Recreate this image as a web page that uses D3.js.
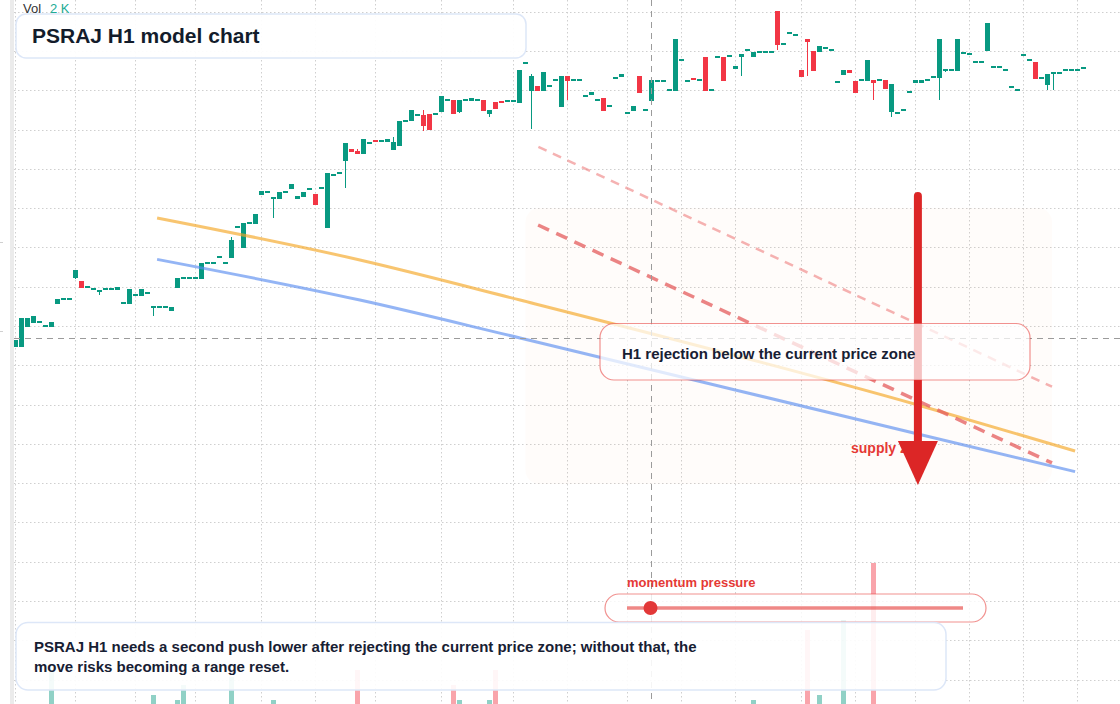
<!DOCTYPE html>
<html>
<head>
<meta charset="utf-8">
<script src="https://cdn.jsdelivr.net/npm/d3@7"></script>
<style>
  body { margin: 0; background: #fff; }
  svg { display: block; }
  text { font-family: "Liberation Sans", Arial, sans-serif; }
</style>
</head>
<body>
<svg id="chart" width="1120" height="704"></svg>
<script>
// H1 candles (index = bar number)
const opens = [
  99.03, 98.93, 98.93, 99.95, 100.15, 100.20, 100.00, 99.95, 101.12, 101.37,
  101.37, 102.44, 102.29, 101.98, 101.88, 101.78, 101.88, 101.88, 101.83, 101.17,
  101.12, 101.58, 101.53, 101.68, 100.97, 100.97, 100.97, 100.76, 101.93, 102.44,
  102.44, 102.44, 102.39, 103.21, 103.21, 103.51, 103.21, 103.46, 105.04, 103.97,
  105.24, 105.19, 106.67, 106.82, 106.51, 106.46, 106.82, 106.97, 106.46, 106.56,
  106.97, 106.72, 107.02, 104.99, 107.68, 107.79, 108.40, 109.01, 108.91, 108.75,
  109.31, 109.44, 109.41, 109.36, 108.96, 109.16, 110.38, 110.43, 110.74, 110.74,
  110.79, 110.79, 110.89, 111.50, 111.50, 110.89, 111.50, 111.45, 111.50, 111.50,
  110.79, 111.40, 111.43, 111.45, 111.45, 111.35, 113.38, 111.96, 112.21, 111.96,
  112.21, 112.52, 111.15, 112.72, 112.52, 112.52, 111.70, 111.76, 111.50, 111.60,
  111.20, 112.62, 112.67, 110.84, 110.94, 112.72, 110.99, 111.45, 112.47, 112.47,
  112.01, 111.96, 113.54, 112.47, 112.60, 112.52, 113.69, 112.01, 113.69, 113.69,
  113.74, 113.08, 113.69, 114.05, 113.69, 113.94, 113.94, 113.94, 116.03, 114.35,
  114.91, 114.81, 113.03, 114.61, 114.00, 113.94, 114.15, 114.05, 112.42, 112.77,
  113.03, 112.47, 112.52, 112.47, 112.52, 112.52, 112.52, 110.89, 110.84, 110.99,
  111.91, 112.37, 112.37, 112.52, 112.67, 112.62, 113.03, 113.03, 112.98, 113.89,
  113.84, 113.44, 113.44, 114.00, 113.18, 113.18, 113.03, 112.16, 112.01, 113.79,
  113.54, 113.44, 112.62, 112.26, 112.88, 112.88, 113.03, 113.03, 113.03, 113.13
];
const highs = [
  99.49, 99.29, 100.41, 100.41, 100.51, 100.20, 100.00, 100.20, 101.37, 101.37,
  101.37, 102.85, 102.29, 101.98, 101.88, 101.78, 101.88, 101.88, 101.98, 101.17,
  101.88, 101.58, 101.88, 101.68, 100.97, 100.97, 100.97, 100.97, 102.44, 102.44,
  102.44, 102.44, 103.21, 103.21, 103.21, 103.51, 103.21, 104.53, 105.04, 105.24,
  105.24, 105.70, 106.87, 106.82, 106.51, 106.82, 106.82, 107.23, 106.62, 106.82,
  106.97, 106.72, 107.02, 107.79, 107.68, 107.79, 109.31, 109.01, 109.01, 109.52,
  109.31, 109.44, 109.41, 109.52, 109.62, 110.43, 110.48, 110.99, 110.74, 110.99,
  110.79, 110.79, 111.70, 111.50, 111.50, 111.50, 111.50, 111.60, 111.50, 111.50,
  110.99, 111.40, 111.43, 111.45, 111.45, 113.03, 113.38, 112.82, 112.21, 112.93,
  112.21, 112.52, 112.72, 112.72, 112.52, 112.52, 111.70, 111.91, 111.50, 111.60,
  111.20, 112.62, 112.82, 110.84, 111.20, 112.72, 110.99, 112.52, 112.47, 112.47,
  112.01, 114.61, 113.54, 112.47, 112.60, 112.52, 113.69, 112.01, 113.69, 113.69,
  113.74, 113.23, 113.84, 114.05, 113.94, 113.94, 113.94, 113.94, 116.03, 114.35,
  114.91, 114.81, 113.03, 114.61, 114.00, 114.25, 114.15, 114.05, 112.42, 113.03,
  113.03, 112.47, 112.52, 113.54, 112.52, 112.52, 112.52, 112.32, 110.84, 110.99,
  111.91, 112.52, 112.52, 112.52, 112.67, 114.61, 113.03, 113.03, 114.61, 113.89,
  113.84, 113.44, 113.44, 115.42, 113.18, 113.18, 113.03, 112.16, 112.01, 113.79,
  113.54, 113.44, 112.62, 112.82, 112.88, 112.88, 113.03, 113.03, 113.03, 113.13
];
const lows = [
  99.03, 98.93, 98.93, 99.95, 100.15, 100.20, 100.00, 99.95, 101.12, 101.37,
  101.37, 102.39, 101.93, 101.98, 101.88, 101.58, 101.88, 101.88, 101.83, 101.17,
  101.12, 101.58, 101.53, 101.68, 100.51, 100.97, 100.97, 100.76, 101.93, 102.44,
  102.44, 102.44, 102.39, 103.21, 103.21, 103.51, 103.21, 103.46, 105.04, 103.97,
  105.24, 105.19, 106.67, 106.82, 105.50, 106.46, 106.82, 106.97, 106.46, 106.56,
  106.97, 106.16, 107.02, 104.99, 107.68, 107.79, 107.02, 108.86, 108.75, 108.75,
  109.31, 109.38, 109.41, 109.36, 108.96, 109.16, 110.38, 110.43, 110.74, 109.92,
  109.97, 110.79, 110.89, 111.50, 110.79, 110.84, 111.50, 111.45, 111.50, 110.94,
  110.64, 111.04, 111.37, 111.45, 111.45, 111.35, 113.38, 110.03, 111.96, 111.96,
  112.21, 112.52, 111.15, 111.50, 112.52, 112.52, 111.70, 111.76, 111.50, 110.94,
  111.20, 112.62, 112.67, 110.84, 110.94, 111.86, 110.99, 111.45, 112.47, 112.47,
  112.01, 111.96, 113.54, 112.47, 112.54, 112.52, 111.96, 112.01, 113.69, 112.47,
  113.74, 113.08, 112.72, 114.05, 113.69, 113.94, 113.94, 113.94, 114.05, 114.35,
  114.91, 114.81, 112.67, 112.72, 112.98, 113.94, 114.15, 114.05, 112.42, 112.77,
  112.88, 111.86, 112.52, 112.47, 111.50, 112.52, 112.06, 110.64, 110.84, 110.99,
  111.91, 112.37, 112.37, 112.52, 112.67, 111.50, 112.93, 113.03, 112.98, 113.89,
  113.84, 113.44, 113.44, 114.00, 113.18, 113.18, 113.03, 112.16, 112.01, 113.79,
  113.54, 112.57, 112.62, 112.01, 112.01, 112.88, 113.03, 113.03, 113.03, 113.13
];
const closes = [
  99.49, 99.29, 100.41, 100.41, 100.51, 100.20, 100.00, 100.20, 101.37, 101.37,
  101.37, 102.85, 101.93, 101.98, 101.88, 101.78, 101.88, 101.88, 101.98, 101.17,
  101.88, 101.58, 101.88, 101.68, 100.97, 100.97, 100.97, 100.97, 102.44, 102.44,
  102.44, 102.44, 103.21, 103.21, 103.21, 103.51, 103.21, 104.38, 105.04, 105.24,
  105.24, 105.70, 106.87, 106.82, 106.51, 106.82, 106.82, 107.23, 106.62, 106.82,
  106.97, 106.16, 107.02, 107.79, 107.68, 107.79, 109.31, 108.86, 108.75, 109.52,
  109.31, 109.38, 109.41, 109.52, 109.36, 110.43, 110.48, 110.99, 110.74, 110.18,
  109.97, 110.79, 111.70, 111.50, 110.79, 111.50, 111.50, 111.60, 111.50, 110.94,
  110.99, 111.04, 111.37, 111.45, 111.45, 113.03, 113.38, 112.72, 111.96, 112.93,
  112.21, 112.52, 112.72, 112.47, 112.52, 112.52, 111.70, 111.91, 111.50, 110.94,
  111.20, 112.62, 112.82, 110.84, 111.20, 111.86, 110.99, 112.52, 112.47, 112.47,
  112.01, 114.61, 113.54, 112.47, 112.54, 112.52, 111.96, 112.01, 113.69, 112.47,
  113.74, 113.23, 113.84, 114.05, 113.94, 113.94, 113.94, 113.94, 114.30, 114.35,
  114.91, 114.81, 112.67, 114.45, 112.98, 114.25, 114.15, 114.05, 112.42, 113.03,
  112.88, 111.86, 112.52, 113.54, 112.37, 112.52, 112.06, 112.32, 110.84, 110.99,
  111.91, 112.52, 112.52, 112.52, 112.67, 114.61, 113.03, 113.03, 114.61, 113.89,
  113.84, 113.44, 113.44, 115.42, 113.18, 113.18, 113.03, 112.16, 112.01, 113.79,
  113.54, 112.57, 112.62, 112.82, 112.88, 112.88, 113.03, 113.03, 113.03, 113.13
];
// volume in thousands
const volumes = [
  2, 2, 2, 2, 2, 2, 2, 96, 2, 2,
  2, 2, 2, 2, 2, 2, 2, 2, 2, 2,
  2, 2, 2, 2, 27, 2, 2, 2, 12, 57,
  2, 2, 2, 2, 2, 2, 2, 81, 2, 2,
  2, 2, 2, 2, 12, 2, 2, 2, 2, 2,
  2, 2, 2, 2, 2, 2, 2, 2, 102, 2,
  2, 2, 2, 2, 2, 2, 2, 2, 2, 2,
  2, 2, 2, 2, 57, 12, 2, 2, 2, 2,
  12, 102, 2, 2, 2, 2, 2, 2, 2, 2,
  2, 2, 2, 2, 2, 2, 2, 2, 2, 2,
  2, 2, 2, 2, 2, 2, 2, 2, 2, 2,
  2, 2, 2, 2, 2, 2, 2, 2, 2, 2,
  2, 2, 2, 2, 12, 2, 2, 2, 2, 2,
  2, 2, 2, 222, 2, 27, 2, 2, 2, 252,
  2, 2, 2, 2, 420, 2, 2, 2, 2, 2,
  2, 2, 2, 2, 2, 2, 2, 2, 2, 2,
  2, 2, 2, 2, 2, 2, 2, 2, 2, 2,
  2, 2, 2, 2, 2, 2, 2, 2, 2, 2
];

const gridPrices = [82, 84, 86, 88, 90, 92, 94, 96, 98, 100, 102, 104, 106, 108, 110, 112, 114, 116];
const timeTicks = [1, 11, 21, 31, 42, 51, 61, 72, 84, 93, 103, 112, 121, 132, 141, 151, 160, 169, 178];
const leftTicks = [104.27, 99.75];

// overlays: [bar, price]
const orangeLine = [[24.6, 105.50], [58.4, 103.36], [85.1, 101.32], [151.4, 95.98], [177.6, 93.64]];
const blueLine = [[24.6, 103.39], [58.4, 101.32], [85.1, 99.39], [151.4, 94.50], [177.6, 92.59]];
const upperDash = [[88.15, 109.12], [173.75, 96.91]];
const lowerDash = [[88.1, 105.14], [173.75, 93.03]];
const supplyZone = { from: 86, to: 173.75, top: 106.0, bottom: 91.96 };
const arrowMove = { bar: 151.4, from: 106.62, to: 91.91 };
const crossBar = 107;
const crossPrice = 99.37;
const momentumValue = 0.07;

const title = 'PSRAJ H1 model chart';
const calloutText = 'H1 rejection below the current price zone';
const zoneLabel = 'supply zone';
const momentumLabel = 'momentum pressure';
const noteLines = [
  'PSRAJ H1 needs a second push lower after rejecting the current price zone; without that, the',
  'move risks becoming a range reset.'
];

const W = 1120, H = 704;
const upColor = '#089981', downColor = '#f23645';
const svg = d3.select('#chart');

const x = d3.scaleLinear().domain([0, 179]).range([9.5, 1083.5]);
const y = d3.scaleLinear().domain([84, 116]).range([640.4, 11.6]);
const yVol = d3.scaleLinear().domain([0, 420]).range([H, 563.2]);

svg.append('defs').append('clipPath').attr('id', 'pane')
  .append('rect').attr('x', 14).attr('y', 0).attr('width', W - 14).attr('height', H);

const pane = svg.append('g').attr('clip-path', 'url(#pane)');

// grid
pane.append('g').selectAll('line').data(gridPrices).join('line')
  .attr('x1', 14).attr('x2', W)
  .attr('y1', (d) => Math.round(y(d)) + 0.5).attr('y2', (d) => Math.round(y(d)) + 0.5)
  .attr('stroke', '#cfcfcf').attr('stroke-dasharray', '1.5 2.5');
pane.append('g').selectAll('line').data(timeTicks).join('line')
  .attr('x1', (d) => x(d)).attr('x2', (d) => x(d))
  .attr('y1', 0).attr('y2', H)
  .attr('stroke', '#cfcfcf').attr('stroke-dasharray', '1.5 2.5');

// volume
const bars = d3.range(opens.length);
pane.append('g').attr('shape-rendering', 'crispEdges')
  .selectAll('rect').data(bars.filter((i) => H - yVol(volumes[i]) >= 1)).join('rect')
  .attr('x', (i) => x(i) - 2.5).attr('width', 5)
  .attr('y', (i) => yVol(volumes[i])).attr('height', (i) => H - yVol(volumes[i]))
  .attr('fill', (i) => closes[i] >= opens[i] ? 'rgba(8,153,129,0.45)' : 'rgba(242,54,69,0.45)');

// supply zone
pane.append('rect')
  .attr('x', x(supplyZone.from)).attr('width', x(supplyZone.to) - x(supplyZone.from))
  .attr('y', y(supplyZone.top)).attr('height', y(supplyZone.bottom) - y(supplyZone.top))
  .attr('rx', 14).attr('fill', 'rgba(255,190,130,0.04)');

// candles
const candles = pane.append('g').attr('shape-rendering', 'crispEdges');
candles.selectAll('line').data(bars).join('line')
  .attr('x1', (i) => x(i)).attr('x2', (i) => x(i))
  .attr('y1', (i) => y(highs[i])).attr('y2', (i) => y(lows[i]))
  .attr('stroke', (i) => closes[i] >= opens[i] ? upColor : downColor);
candles.selectAll('rect').data(bars).join('rect')
  .attr('x', (i) => x(i) - 2.5).attr('width', 5)
  .attr('y', (i) => {
    const top = y(Math.max(opens[i], closes[i]));
    const h = Math.abs(y(opens[i]) - y(closes[i]));
    return h < 2 ? top - (2 - h) / 2 : top;
  })
  .attr('height', (i) => Math.max(2, Math.abs(y(opens[i]) - y(closes[i]))))
  .attr('fill', (i) => closes[i] >= opens[i] ? upColor : downColor);

// trend lines
const line = d3.line().x((d) => x(d[0])).y((d) => y(d[1])).curve(d3.curveMonotoneX);
pane.append('path').attr('d', line(orangeLine)).attr('fill', 'none')
  .attr('stroke', '#f5a623').attr('stroke-opacity', 0.65).attr('stroke-width', 3);
pane.append('path').attr('d', line(blueLine)).attr('fill', 'none')
  .attr('stroke', '#5b8def').attr('stroke-opacity', 0.65).attr('stroke-width', 3);
pane.append('path').attr('d', line(upperDash)).attr('fill', 'none')
  .attr('stroke', '#ef7f7f').attr('stroke-opacity', 0.6).attr('stroke-width', 2.5)
  .attr('stroke-dasharray', '9 7');
pane.append('path').attr('d', line(lowerDash)).attr('fill', 'none')
  .attr('stroke', '#e45c5c').attr('stroke-opacity', 0.75).attr('stroke-width', 3.5)
  .attr('stroke-dasharray', '12 8');

// crosshair
pane.append('line')
  .attr('x1', x(crossBar)).attr('x2', x(crossBar)).attr('y1', 0).attr('y2', H)
  .attr('stroke', '#9b9b9b').attr('stroke-dasharray', '6 5');
pane.append('line')
  .attr('x1', 14).attr('x2', W)
  .attr('y1', Math.round(y(crossPrice)) + 0.5).attr('y2', Math.round(y(crossPrice)) + 0.5)
  .attr('stroke', '#9b9b9b').attr('stroke-dasharray', '6 5');

// left scale edge
svg.append('rect').attr('x', 10).attr('y', 0).attr('width', 4).attr('height', H).attr('fill', '#ebebeb');
svg.append('g').selectAll('line').data(leftTicks).join('line')
  .attr('x1', 0).attr('x2', 3)
  .attr('y1', (d) => Math.round(y(d)) + 0.5).attr('y2', (d) => Math.round(y(d)) + 0.5)
  .attr('stroke', '#d0d0d0');

// zone label + arrow
svg.append('text').attr('x', 851).attr('y', 453)
  .attr('font-size', 14).attr('font-weight', 700).attr('fill', '#e53935').text(zoneLabel);

const ax = x(arrowMove.bar), aTop = y(arrowMove.from), aTip = y(arrowMove.to);
svg.append('line').attr('x1', ax).attr('x2', ax).attr('y1', aTop).attr('y2', aTip - 40)
  .attr('stroke', '#dc2626').attr('stroke-width', 8).attr('stroke-linecap', 'round');
svg.append('path')
  .attr('d', `M${ax - 20},${aTip - 44}L${ax + 20},${aTip - 44}L${ax},${aTip}Z`)
  .attr('fill', '#dc2626');

// callout
svg.append('rect').attr('x', 600).attr('y', 323.5).attr('width', 430).attr('height', 56.5)
  .attr('rx', 14).attr('fill', 'rgba(255,255,255,0.72)')
  .attr('stroke', 'rgba(229,57,53,0.55)').attr('stroke-width', 1.2);
svg.append('text').attr('x', 622).attr('y', 359)
  .attr('font-size', 15).attr('font-weight', 700).attr('fill', '#172033').text(calloutText);

// momentum gauge
const mx = d3.scaleLinear().domain([0, 1]).range([627, 963]);
svg.append('text').attr('x', 627).attr('y', 587)
  .attr('font-size', 13).attr('font-weight', 700).attr('fill', '#e53935').text(momentumLabel);
svg.append('rect').attr('x', 605).attr('y', 594).attr('width', 381).attr('height', 28)
  .attr('rx', 14).attr('fill', 'rgba(255,255,255,0.8)')
  .attr('stroke', 'rgba(229,57,53,0.55)').attr('stroke-width', 1.2);
svg.append('line').attr('x1', mx(0)).attr('x2', mx(1)).attr('y1', 608).attr('y2', 608)
  .attr('stroke', '#e53935').attr('stroke-opacity', 0.6).attr('stroke-width', 3.5);
svg.append('circle').attr('cx', mx(momentumValue)).attr('cy', 608).attr('r', 7).attr('fill', '#e23838');

// note box
svg.append('rect').attr('x', 16).attr('y', 622.5).attr('width', 930).attr('height', 67.5)
  .attr('rx', 12).attr('fill', 'rgba(255,255,255,0.9)')
  .attr('stroke', '#dde7f8').attr('stroke-width', 1.5);
svg.append('text').attr('font-size', 15).attr('font-weight', 700).attr('fill', '#172033')
  .selectAll('tspan').data(noteLines).join('tspan')
  .attr('x', 34).attr('y', (d, i) => 652 + i * 20).text((d) => d);

// title box
svg.append('rect').attr('x', 16).attr('y', 14).attr('width', 510).attr('height', 44)
  .attr('rx', 10).attr('fill', 'rgba(255,255,255,0.94)')
  .attr('stroke', '#dde7f8').attr('stroke-width', 1.5);
svg.append('text').attr('x', 32).attr('y', 43)
  .attr('font-size', 21).attr('font-weight', 700).attr('fill', '#131c2b').text(title);

// volume legend
const legend = svg.append('text').attr('x', 23).attr('y', 13).attr('font-size', 13);
legend.append('tspan').attr('fill', '#333').text('Vol');
legend.append('tspan').attr('x', 50).attr('fill', '#22ab94').text(`${volumes[crossBar]} K`);
</script>
</body>
</html>
